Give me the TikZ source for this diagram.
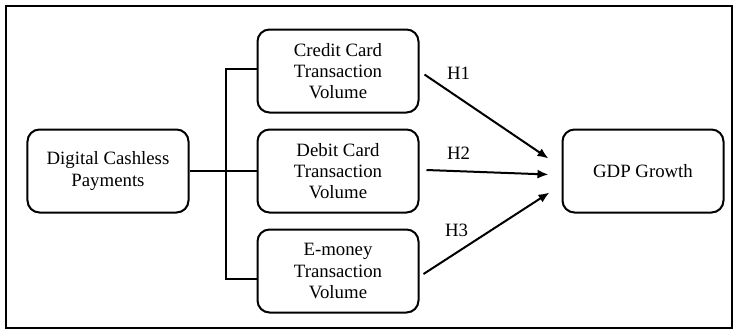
\documentclass[tikz,border=0pt]{standalone}
\usepackage{fontspec}
\setmainfont{Liberation Serif}
\usetikzlibrary{arrows.meta,calc}

\tikzstyle{block} = [align=center,draw=black,line width=1pt,rounded corners=6pt,minimum width=80.5pt,minimum height=41.5pt,font=\fontsize{9.4}{10.6}\selectfont,text centered]
\tikzstyle{link} = [line width=1pt]
\tikzstyle{hyp} = [line width=1pt,-{Latex[length=5.5pt,width=4.5pt]}]
\tikzstyle{hlabel} = [font=\fontsize{9.4}{10.6}\selectfont]

\begin{document}
\begin{tikzpicture}
	\useasboundingbox (-54pt,-79pt) rectangle (312.5pt,85.5pt);
	\draw [line width=0.8pt] (-51pt,-78.5pt) rectangle (312pt,82.5pt);
	\node (dcp) [block] at (0,0) {Digital Cashless\\Payments};
	\node (debit) [block,right of=dcp,node distance=115pt] {Debit Card\\Transaction\\Volume};
	\node (credit) [block,above of=debit,node distance=50pt] {Credit Card\\Transaction\\Volume};
	\node (emoney) [block,below of=debit,node distance=50pt] {E-money\\Transaction\\Volume};
	\node (gdp) [block,right of=debit,node distance=152.5pt] {GDP Growth};
	% bracket from the cashless payments box
	\coordinate (fork) at ($(emoney.west)+(-15.5pt,-4pt)$);
	\draw [link] (dcp.east) -- (debit.west);
	\draw [link] ([yshift=1pt]credit.west) -| (fork) -- ++(15.5pt,0);
	% hypotheses
	\coordinate (in1) at ($(gdp.west)+(-6.5pt,6.25pt)$);
	\coordinate (in2) at ($(gdp.west)+(-6.5pt,-1.75pt)$);
	\coordinate (in3) at ($(gdp.west)+(-6pt,-10.75pt)$);
	\draw [hyp] ([shift={(2.5pt,-1.75pt)}]credit.east) -- (in1);
	\draw [hyp] ([shift={(3.5pt,0.5pt)}]debit.east) -- (in2);
	\draw [hyp] ([shift={(2pt,-1.5pt)}]emoney.east) -- (in3);
	\node (h1) [hlabel] at ($(credit.east)+(19.5pt,-1.25pt)$) {H1};
	\node (h2) [hlabel] at ($(debit.east)+(19.5pt,9pt)$) {H2};
	\node (h3) [hlabel] at ($(emoney.east)+(18.5pt,20.5pt)$) {H3};
\end{tikzpicture}
\end{document}
